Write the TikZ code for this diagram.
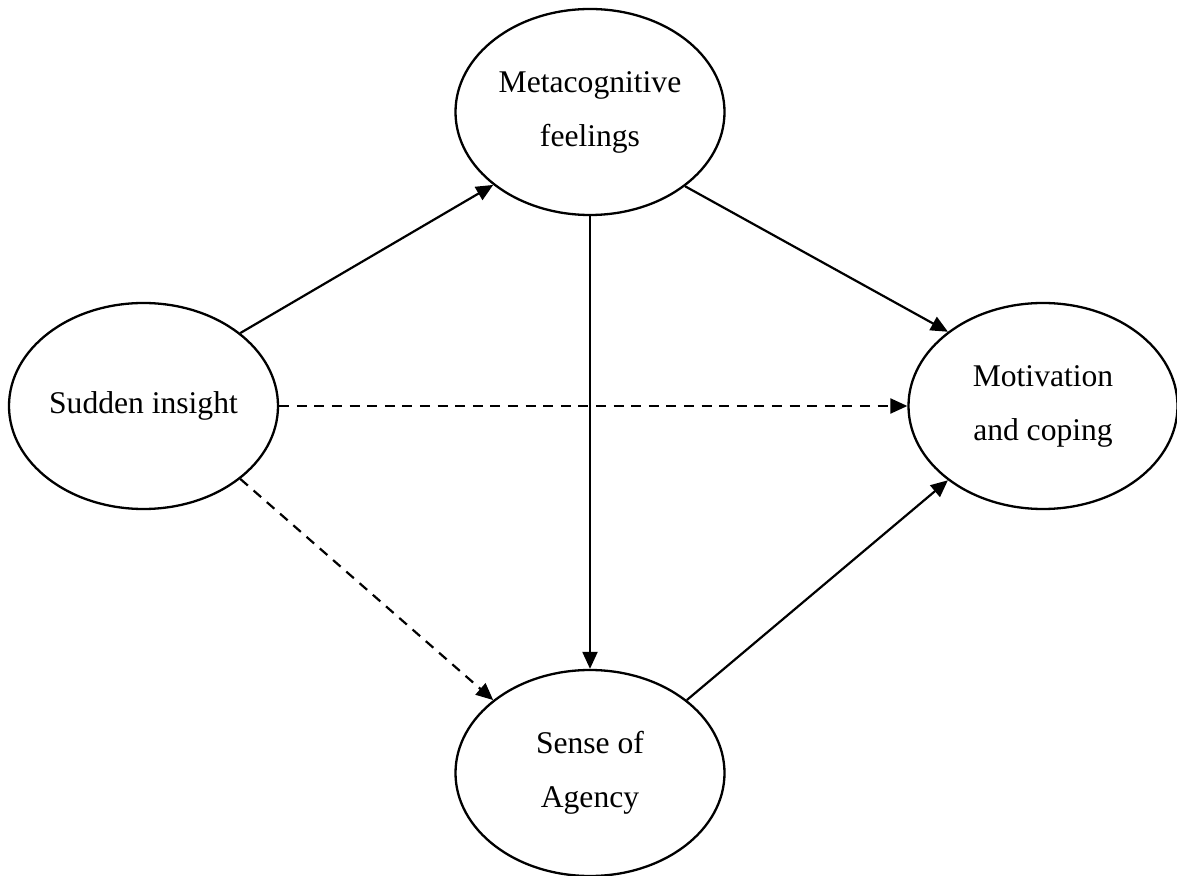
\documentclass[tikz,border=0pt]{standalone}
\usepackage{fontspec}
\setmainfont{Liberation Serif}
\usetikzlibrary{shapes.geometric,arrows.meta}
\tikzset{
  construct/.style={draw, line width=1.15pt, ellipse, minimum width=134.5pt, minimum height=103pt, inner sep=0pt, align=center, font=\fontsize{15.8pt}{27pt}\selectfont},
  link/.style={line width=1.1pt, -{Triangle[length=8.5pt,width=7.5pt]}},
  dlink/.style={link, dash pattern=on 5pt off 3.8pt}
}
\begin{document}
\begin{tikzpicture}[x=0.5pt,y=-0.5pt]
\useasboundingbox (0,0) rectangle (1177,876);
\node[construct] (meta) at (590,112) {Metacognitive\\feelings};
\node[construct] (sud) at (143.5,406) {Sudden insight};
\node[construct] (mot) at (1043,406) {Motivation\\and coping};
\node[construct] (sense) at (590,773) {Sense of\\Agency};
\draw[link] (sud.37) -- (meta.217);
\draw[link] (meta.322) -- (mot.142);
\draw[link] (meta.south) -- (sense.north);
\draw[dlink] (sud.east) -- (mot.west);
\draw[dlink] (sud.323) -- (sense.143);
\draw[link] (sense.37) -- (mot.218);
\end{tikzpicture}
\end{document}
